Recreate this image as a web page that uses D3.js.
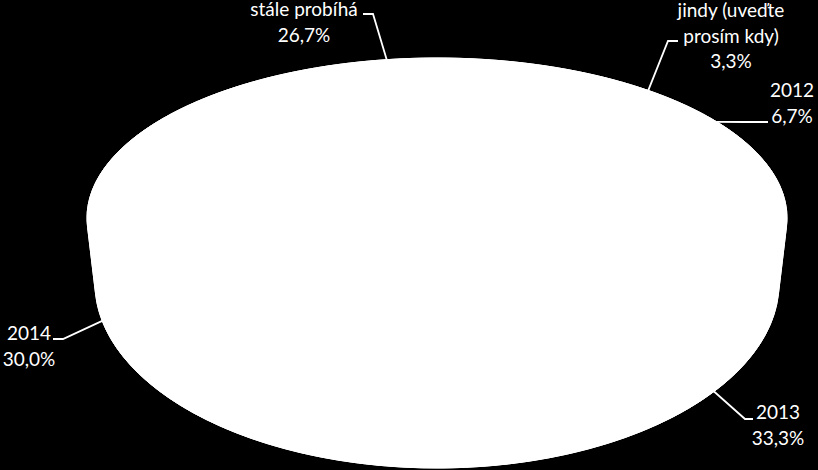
<!DOCTYPE html>
<html>
<head>
    <meta charset="utf-8">
    <title>Pie</title>
    <style>
        html, body { margin: 0; padding: 0; background: #000; }
        svg { display: block; }
        .slice { fill: #fff; stroke: #fff; stroke-width: 1px; }
        .leader { fill: none; stroke: #fff; stroke-width: 1.8px; }
        text { fill: #fff; font-family: Lato, sans-serif; font-size: 19px; text-anchor: middle; }
    </style>
</head>
<body>
<svg id="chart" width="818" height="470"></svg>
<script src="https://d3js.org/d3.v7.min.js"></script>
<script>
    // clockwise from the first slice
    const categories = ['2012', '2013', '2014', 'stále probíhá', 'jindy (uveďte prosím kdy)'];
    const shares = [6.7, 33.3, 30.0, 26.7, 3.3];
    const shareLabels = ['6,7%', '33,3%', '30,0%', '26,7%', '3,3%'];

    // label layout: text centre, first baseline, leader knee and end (same order as categories)
    const labelLines = [['2012'], ['2013'], ['2014'], ['stále probíhá'], ['jindy (uveďte', 'prosím kdy)']];
    const labelX = [792, 778, 29, 304, 731];
    const labelY = [97, 419, 340, 16, 17];
    const knees = [[745, 122], [745, 419], [63, 339], [373, 14], [668, 41]];
    const ends = [[768, 122], [753, 419], [53, 339], [363, 14], [678, 41]];

    const svg = d3.select('svg#chart');

    // top face and bottom rim of the tilted pie
    const top_ = { cx: 437, cy: 218, rx: 350, ry: 160 };
    const bottom = { cx: 437, cy: 283, rx: 342, ry: 185 };
    const skew = 0.83; // the far side looks squeezed

    // pie angle to angle on the drawn ellipse
    function warp(a) {
        return 2 * Math.atan(skew * Math.tan(a / 2));
    }
    function onEllipse(e, a) {
        const t = warp(a);
        return [e.cx + e.rx * Math.sin(t), e.cy - e.ry * Math.cos(t)];
    }

    const start = 50 * Math.PI / 180;
    const pie = d3.pie().sort(null).startAngle(start).endAngle(start + 2 * Math.PI);
    const arcs = pie(shares);

    // each slice is the hull of its wedge on the top face and its outer wall
    arcs.forEach(d => {
        const pts = [[top_.cx, top_.cy]];
        d3.range(0, 41).forEach(i => {
            const a = d.startAngle + (d.endAngle - d.startAngle) * i / 40;
            pts.push(onEllipse(top_, a));
            pts.push(onEllipse(bottom, a));
        });
        svg.append('path')
            .attr('class', 'slice')
            .attr('d', 'M' + d3.polygonHull(pts).join('L') + 'Z');
    });

    // the two faces together leave the walls straight between the rims
    const outline = [];
    d3.range(0, 181).forEach(i => {
        const a = i * 2 * Math.PI / 180;
        outline.push(onEllipse(top_, a));
        outline.push(onEllipse(bottom, a));
    });
    svg.append('path')
        .attr('class', 'slice')
        .attr('d', 'M' + d3.polygonHull(outline).join('L') + 'Z');

    // leaders start on whichever rim is visible at the slice's middle
    arcs.forEach((d, i) => {
        const mid = (d.startAngle + d.endAngle) / 2;
        const visibleTop = Math.cos(warp(mid)) > 0;
        const anchor = onEllipse(visibleTop ? top_ : bottom, mid);
        svg.append('path')
            .attr('class', 'leader')
            .attr('d', d3.line()([anchor, knees[i], ends[i]]));
    });

    categories.forEach((c, i) => {
        const lines = labelLines[i].concat(shareLabels[i]);
        const t = svg.append('text').attr('x', labelX[i]).attr('y', labelY[i]);
        lines.forEach((s, j) => {
            t.append('tspan')
                .attr('x', labelX[i])
                .attr('dy', j == 0 ? 0 : 25.5)
                .text(s);
        });
    });
</script>
</body>
</html>
